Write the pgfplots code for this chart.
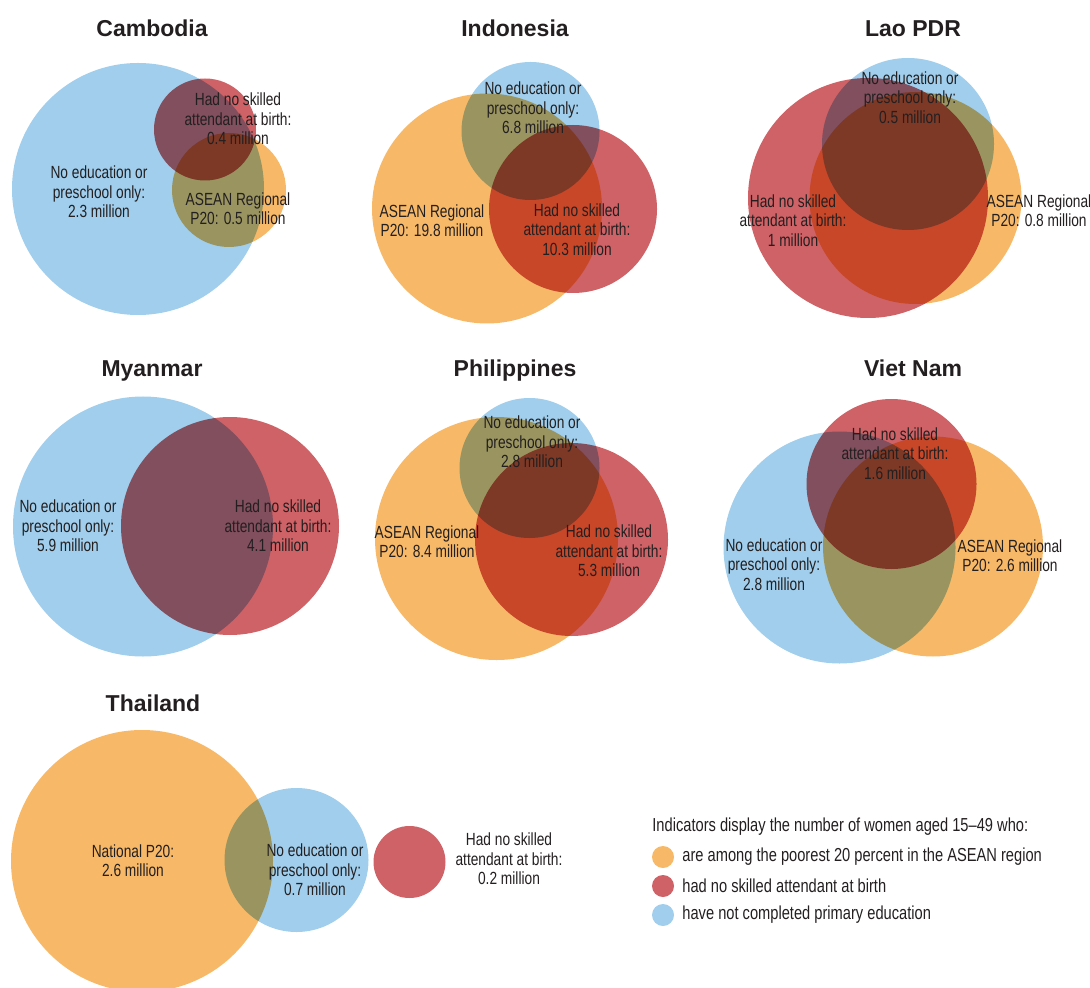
\documentclass[border=0pt]{standalone}
\usepackage{pgfplots}
\pgfplotsset{compat=1.18}
\usepackage{pgfplotstable}
\usepackage{fontspec}
\setmainfont{Liberation Sans}[FakeStretch=0.78]
\newfontfamily\titlefont{Liberation Sans}
\definecolor{cblue}{HTML}{A0CEEC}
\definecolor{corange}{HTML}{F7B968}
\definecolor{cred}{HTML}{CF6266}
\definecolor{textc}{RGB}{35,31,32}

% circles: centre x, centre y (pixels, y downwards), radius (pixels)
\pgfplotstableread{
x y r
138 189 126
530.5 131 69
908 144 86
143 526.5 130
529.5 468 70
839.5 547.5 116
296.5 860 72
663 915 11
}\bluetab
\pgfplotstableread{
x y r
229 190 57
487 208.5 115
915.5 198 106
496.5 538.5 121.5
933 546.5 110
142 861 131
663 857 11
}\orangetab
\pgfplotstableread{
x y r
205 129.5 51
573 209 84
868 198 120
230 526 109
571.5 539.5 96.5
891.5 484 85
409.5 862 36
663 886 11
}\redtab

\pgfplotsset{venn/.style={scatter, only marks, mark=*, color=#1,
  scatter/use mapped color={draw=#1, fill=#1, draw opacity=0},
  mark options={draw=#1, fill=#1, draw opacity=0, line width=0pt},
  visualization depends on={0.5*\thisrow{r} \as \rad},
  scatter/@pre marker code/.append style={/tikz/mark size=\rad},
  /tikz/blend mode=multiply}}

\begin{document}
\begin{tikzpicture}[
  lbl/.style={font=\fontsize{8.8}{9.7}\selectfont, text=textc, align=center, inner sep=0pt},
  ttl/.style={font=\titlefont\bfseries\fontsize{11.5}{12}\selectfont, text=textc, anchor=base, inner sep=0pt},
  leg/.style={font=\fontsize{9.4}{10}\selectfont, text=textc, anchor=west, inner sep=0pt}]
\begin{axis}[x=0.5pt, y=0.5pt, xmin=0, xmax=1090, ymin=0, ymax=988, y dir=reverse,
  hide axis, clip mode=individual]
\addplot[venn=cblue] table[x=x,y=y] {\bluetab};
\addplot[venn=corange] table[x=x,y=y] {\orangetab};
\addplot[venn=cred] table[x=x,y=y] {\redtab};

% titles
\node[ttl] at (axis cs:152,37) {Cambodia};
\node[ttl] at (axis cs:515,37) {Indonesia};
\node[ttl] at (axis cs:913,37) {Lao PDR};
\node[ttl] at (axis cs:152,377) {Myanmar};
\node[ttl] at (axis cs:515,377) {Philippines};
\node[ttl] at (axis cs:913,377) {Viet Nam};
\node[ttl] at (axis cs:153,711) {Thailand};

% Cambodia
\node[lbl] at (axis cs:99,192) {No education or\\preschool only:\\2.3 million};
\node[lbl] at (axis cs:238,119) {Had no skilled\\attendant at birth:\\0.4 million};
\node[lbl] at (axis cs:238,208.5) {ASEAN Regional\\P20: 0.5 million};
% Indonesia
\node[lbl] at (axis cs:533,108) {No education or\\preschool only:\\6.8 million};
\node[lbl] at (axis cs:432,220.5) {ASEAN Regional\\P20: 19.8 million};
\node[lbl] at (axis cs:577,229.5) {Had no skilled\\attendant at birth:\\10.3 million};
% Lao PDR
\node[lbl] at (axis cs:910,97.5) {No education or\\preschool only:\\0.5 million};
\node[lbl] at (axis cs:793,220.5) {Had no skilled\\attendant at birth:\\1 million};
\node[lbl] at (axis cs:1039,211) {ASEAN Regional\\P20: 0.8 million};
% Myanmar
\node[lbl] at (axis cs:68,526) {No education or\\preschool only:\\5.9 million};
\node[lbl] at (axis cs:278,526) {Had no skilled\\attendant at birth:\\4.1 million};
% Philippines
\node[lbl] at (axis cs:532,442) {No education or\\preschool only:\\2.8 million};
\node[lbl] at (axis cs:427,542) {ASEAN Regional\\P20: 8.4 million};
\node[lbl] at (axis cs:609,551) {Had no skilled\\attendant at birth:\\5.3 million};
% Viet Nam
\node[lbl] at (axis cs:895,453.5) {Had no skilled\\attendant at birth:\\1.6 million};
\node[lbl] at (axis cs:774,564.5) {No education or\\preschool only:\\2.8 million};
\node[lbl] at (axis cs:1010,555.5) {ASEAN Regional\\P20: 2.6 million};
% Thailand
\node[lbl] at (axis cs:133,860.5) {National P20:\\2.6 million};
\node[lbl] at (axis cs:315,870) {No education or\\preschool only:\\0.7 million};
\node[lbl] at (axis cs:509,859) {Had no skilled\\attendant at birth:\\0.2 million};

% legend
\node[leg] at (axis cs:652,827) {Indicators display the number of women aged 15–49 who:};
\node[leg] at (axis cs:682,857) {are among the poorest 20 percent in the ASEAN region};
\node[leg] at (axis cs:682,886) {had no skilled attendant at birth};
\node[leg] at (axis cs:682,915) {have not completed primary education};
\end{axis}
\pgfresetboundingbox
\useasboundingbox (current axis.south west) rectangle (current axis.north east);
\end{tikzpicture}
\end{document}
